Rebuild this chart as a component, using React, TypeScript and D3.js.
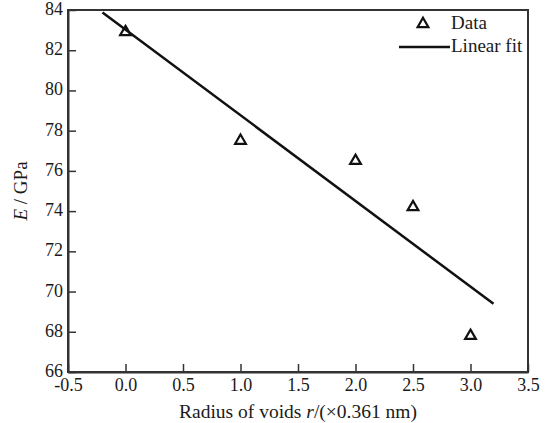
import React, { useEffect, useRef } from "react";
import * as d3 from "d3";

// data
const radius = [0, 1, 2, 2.5, 3];
const modulus = [82.9, 77.5, 76.5, 74.2, 67.8];

// linear fit end points
const fitX = [-0.2, 3.2];
const fitY = [83.88, 69.39];

const xTicks = [-0.5, 0, 0.5, 1, 1.5, 2, 2.5, 3, 3.5];
const yTicks = [66, 68, 70, 72, 74, 76, 78, 80, 82, 84];

const legendLabels = ["Data", "Linear fit"];

const App = () => {
  const chartRef = useRef<SVGSVGElement | null>(null);

  useEffect(() => {
    const width = 547;
    const height = 423;
    const margin = { top: 10, right: 19, bottom: 51, left: 68 };
    const font = "Liberation Serif, Times New Roman, serif";
    const ink = "#1a1a1a";

    const svg = d3.select(chartRef.current);
    svg.selectAll("*").remove();

    const x = d3
      .scaleLinear()
      .domain([-0.5, 3.5])
      .range([margin.left, width - margin.right]);

    const y = d3
      .scaleLinear()
      .domain([66, 84])
      .range([height - margin.bottom, margin.top]);

    // frame
    svg
      .append("rect")
      .attr("x", margin.left)
      .attr("y", margin.top)
      .attr("width", width - margin.left - margin.right)
      .attr("height", height - margin.top - margin.bottom)
      .attr("fill", "none")
      .attr("stroke", "#333")
      .attr("stroke-width", 2);

    // bottom axis, ticks inward
    const xAxis = svg
      .append("g")
      .attr("transform", `translate(0,${height - margin.bottom})`)
      .call(
        d3
          .axisBottom(x)
          .tickValues(xTicks)
          .tickSizeInner(-8)
          .tickSizeOuter(0)
          .tickPadding(6)
          .tickFormat((d) => (d as number).toFixed(1))
      )
      .attr("font-family", font);
    xAxis.select(".domain").attr("stroke", "#333").attr("stroke-width", 2);
    xAxis.selectAll(".tick line").attr("stroke", "#333").attr("stroke-width", 1.5);
    xAxis
      .selectAll(".tick text")
      .attr("font-family", font)
      .attr("font-size", 18)
      .attr("fill", ink);

    // left axis, ticks inward
    const yAxis = svg
      .append("g")
      .attr("transform", `translate(${margin.left},0)`)
      .call(
        d3
          .axisLeft(y)
          .tickValues(yTicks)
          .tickSizeInner(-8)
          .tickSizeOuter(0)
          .tickPadding(5)
      )
      .attr("font-family", font);
    yAxis.select(".domain").attr("stroke", "#333").attr("stroke-width", 2);
    yAxis.selectAll(".tick line").attr("stroke", "#333").attr("stroke-width", 1.5);
    yAxis
      .selectAll(".tick text")
      .attr("font-family", font)
      .attr("font-size", 18)
      .attr("dy", "0.25em")
      .attr("fill", ink);

    // axis titles
    const xTitle = svg
      .append("text")
      .attr("x", 298)
      .attr("y", height - 5)
      .attr("text-anchor", "middle")
      .attr("font-family", font)
      .attr("font-size", 19.5)
      .attr("fill", ink);
    xTitle.append("tspan").text("Radius of voids ");
    xTitle.append("tspan").attr("font-style", "italic").text("r");
    xTitle.append("tspan").text("/(×0.361 nm)");

    const yTitle = svg
      .append("text")
      .attr("transform", `translate(27,${(margin.top + height - margin.bottom) / 2}) rotate(-90)`)
      .attr("text-anchor", "middle")
      .attr("font-family", font)
      .attr("font-size", 19)
      .attr("fill", ink);
    yTitle.append("tspan").attr("font-style", "italic").text("E");
    yTitle.append("tspan").text(" / GPa");

    // fit line
    const line = d3
      .line<number>()
      .x((d) => x(d))
      .y((d, i) => y(fitY[i]));

    svg
      .append("path")
      .datum(fitX)
      .attr("fill", "none")
      .attr("stroke", "#111")
      .attr("stroke-width", 2.5)
      .attr("d", line);

    // data triangles
    const tri = d3.symbol().type(d3.symbolTriangle).size(50);
    svg
      .append("g")
      .selectAll("path")
      .data(radius)
      .join("path")
      .attr("transform", (d, i) => `translate(${x(d)},${y(modulus[i])})`)
      .attr("d", tri)
      .attr("fill", "none")
      .attr("stroke", "#111")
      .attr("stroke-width", 2.2);

    // legend
    const legend = svg.append("g");
    legend
      .append("path")
      .attr("transform", "translate(423,24)")
      .attr("d", tri)
      .attr("fill", "none")
      .attr("stroke", "#111")
      .attr("stroke-width", 2.2);
    legend
      .append("line")
      .attr("x1", 399)
      .attr("x2", 450)
      .attr("y1", 47)
      .attr("y2", 47)
      .attr("stroke", "#111")
      .attr("stroke-width", 2.5);
    legend
      .selectAll("text")
      .data(legendLabels)
      .join("text")
      .attr("x", 451)
      .attr("y", (d, i) => 29 + i * 23)
      .attr("font-family", font)
      .attr("font-size", 19)
      .attr("fill", ink)
      .text((d) => d);
  }, []);

  return (
    <svg
      ref={chartRef}
      width={547}
      height={423}
      style={{ position: "absolute", left: 0, top: 0, background: "#fff" }}
    />
  );
};

export default App;
